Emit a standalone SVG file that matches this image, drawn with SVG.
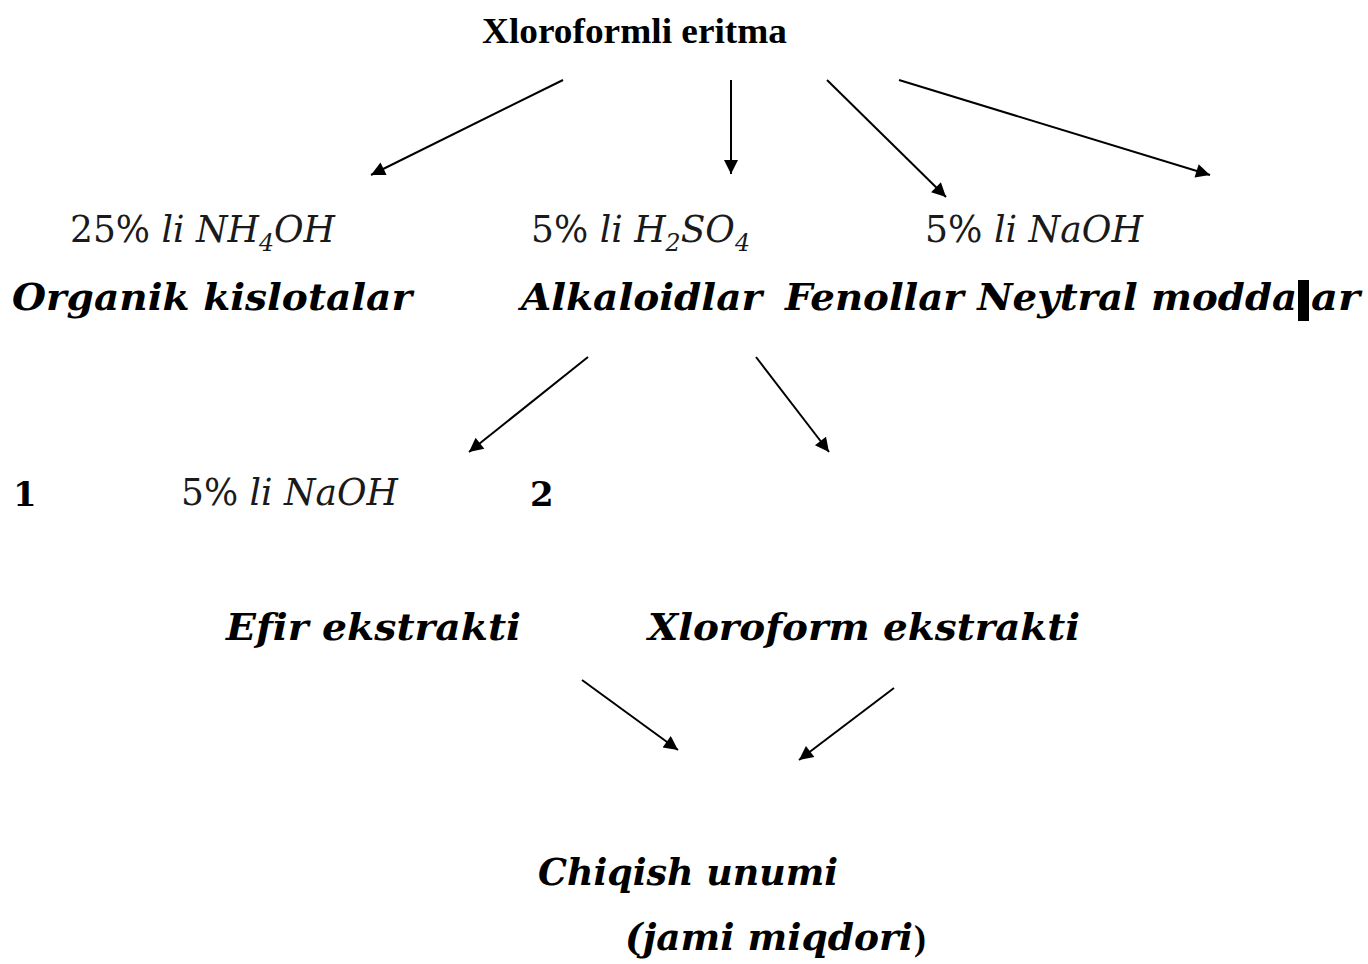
<svg xmlns="http://www.w3.org/2000/svg" width="1368" height="964" viewBox="0 0 1368 964">
  <style>
    text { font-variant-ligatures: none; font-feature-settings: "liga" 0, "clig" 0; }
    .title { font-family: "Liberation Serif", "Times New Roman", serif; font-weight: bold; font-size: 36px; fill: #000; }
    .reag { font-family: "DejaVu Serif", serif; font-size: 38px; fill: #1a1a1a; }
    .reag .v { font-style: italic; }
    .prod { font-family: "DejaVu Serif", serif; font-style: italic; font-weight: bold; font-size: 37px; fill: #000; }
    .num { font-family: "DejaVu Serif", serif; font-weight: bold; font-size: 34px; fill: #000; }
    .link { stroke: #000; stroke-width: 2; fill: none; marker-end: url(#head); }
  </style>
  <defs>
    <marker id="head" viewBox="0 0 10 10" refX="10" refY="5" markerUnits="userSpaceOnUse" markerWidth="18" markerHeight="14" orient="auto">
      <path d="M0,0 L10,5 L0,10 z" fill="#000"/>
    </marker>
  </defs>
  <rect width="1368" height="964" fill="#fff"/>

  <g id="connectors">
    <line class="link" x1="563" y1="80" x2="371" y2="175"/>
    <line class="link" x1="731" y1="80" x2="731" y2="174"/>
    <line class="link" x1="827" y1="80" x2="946" y2="197"/>
    <line class="link" x1="899" y1="80" x2="1210" y2="175"/>
    <line class="link" x1="588" y1="357" x2="469" y2="452"/>
    <line class="link" x1="756" y1="357" x2="829" y2="452"/>
    <line class="link" x1="582" y1="680" x2="678" y2="750"/>
    <line class="link" x1="894" y1="688" x2="799" y2="760"/>
  </g>

  <g id="source">
    <text class="title" x="482" y="43" textLength="305" lengthAdjust="spacingAndGlyphs">Xloroformli eritma</text>
  </g>

  <g id="reagent-nh4oh">
    <text class="reag" x="70" y="242" textLength="265" lengthAdjust="spacingAndGlyphs">25% <tspan class="v">li NH</tspan><tspan class="v" font-size="25" dy="9">4</tspan><tspan class="v" dy="-9">OH</tspan></text>
  </g>
  <g id="reagent-h2so4">
    <text class="reag" x="531" y="242" textLength="219" lengthAdjust="spacingAndGlyphs">5% <tspan class="v">li H</tspan><tspan class="v" font-size="25" dy="9">2</tspan><tspan class="v" dy="-9">SO</tspan><tspan class="v" font-size="25" dy="9">4</tspan></text>
  </g>
  <g id="reagent-naoh">
    <text class="reag" x="925" y="242" textLength="218" lengthAdjust="spacingAndGlyphs">5% <tspan class="v">li NaOH</tspan></text>
  </g>

  <g id="organik-kislotalar">
    <text class="prod" x="12" y="310" textLength="400" lengthAdjust="spacingAndGlyphs">Organik kislotalar</text>
  </g>
  <g id="alkaloidlar">
    <text class="prod" x="521" y="310" textLength="241" lengthAdjust="spacingAndGlyphs">Alkaloidlar</text>
  </g>
  <g id="fenollar-neytral">
    <text class="prod" x="785" y="310" textLength="512" lengthAdjust="spacingAndGlyphs">Fenollar Neytral modda</text>
    <rect x="1298" y="280" width="11" height="41" fill="#000"/>
    <text class="prod" x="1311" y="310" textLength="49" lengthAdjust="spacingAndGlyphs">ar</text>
  </g>

  <g id="step-1">
    <text class="num" x="13" y="506">1</text>
  </g>
  <g id="reagent-naoh-2">
    <text class="reag" x="181" y="505" textLength="217" lengthAdjust="spacingAndGlyphs">5% <tspan class="v">li NaOH</tspan></text>
  </g>
  <g id="step-2">
    <text class="num" x="530" y="506">2</text>
  </g>

  <g id="efir-ekstrakti">
    <text class="prod" x="226" y="640" textLength="295" lengthAdjust="spacingAndGlyphs">Efir ekstrakti</text>
  </g>
  <g id="xloroform-ekstrakti">
    <text class="prod" x="648" y="640" textLength="432" lengthAdjust="spacingAndGlyphs">Xloroform ekstrakti</text>
  </g>

  <g id="chiqish-unumi">
    <text class="prod" x="538" y="885" textLength="300" lengthAdjust="spacingAndGlyphs">Chiqish unumi</text>
    <text class="prod" x="625" y="950" textLength="288" lengthAdjust="spacingAndGlyphs">(jami miqdori</text>
    <text class="title" x="914" y="950" font-size="34">)</text>
  </g>
</svg>
